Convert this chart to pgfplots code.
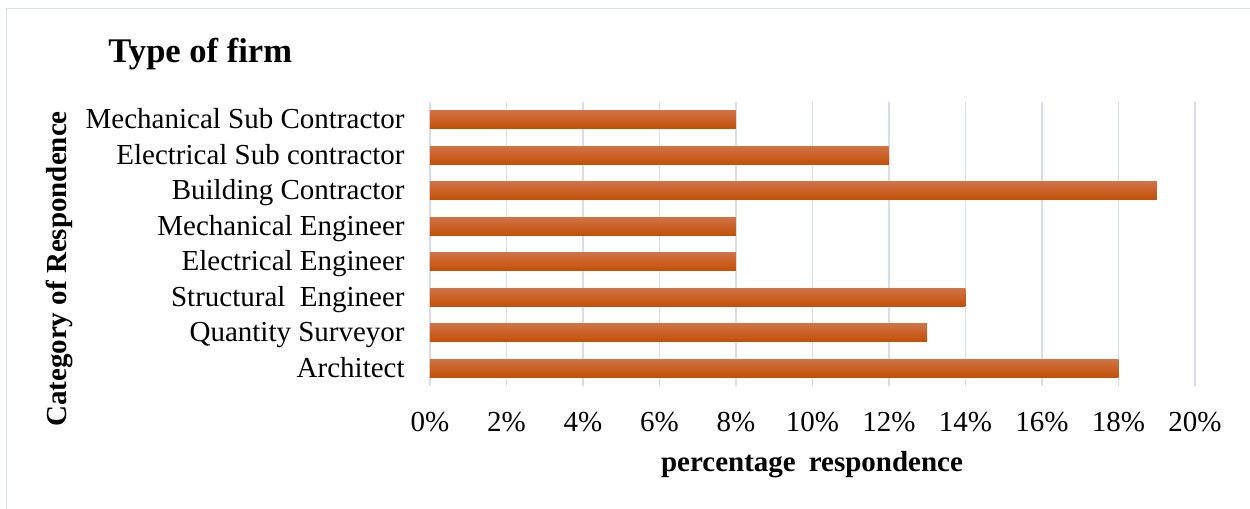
\documentclass[border=0pt]{standalone}
\usepackage{pgfplots}
\pgfplotsset{compat=1.18}
\usepackage{fontspec}
\setmainfont{Liberation Serif}

\definecolor{framec}{RGB}{220,224,232}
\definecolor{gridc}{RGB}{216,220,231}
\definecolor{bartop}{RGB}{208,114,70}
\definecolor{barmid}{RGB}{200,86,12}
\definecolor{barbot}{RGB}{194,80,6}

% one unit of the drawing grid (1250 x 508 units)
\def\u{0.4138}
\newcommand\px[2]{({#1*\u pt},{(508-#2)*\u pt})}

\begin{document}
\begin{tikzpicture}
\useasboundingbox \px{0}{508} rectangle \px{1250}{0};
% outer frame
\draw[framec, line width=0.66pt] \px{6.5}{8.5} rectangle \px{1262}{520};

\begin{axis}[
  at={(177.93pt,50.48pt)}, anchor=south west,
  scale only axis,
  width=316.56pt, height=117.52pt,
  xmin=0, xmax=20,
  ymin=-0.5, ymax=7.5,
  xbar, bar width=7.45pt, bar shift=0pt,
  axis line style={draw=none},
  major tick length=0pt,
  xtick={0,2,...,20},
  xticklabels={0\%,2\%,4\%,6\%,8\%,10\%,12\%,14\%,16\%,18\%,20\%},
  ytick={0,...,7},
  yticklabels={Architect,Quantity Surveyor,Structural\ \ Engineer,Electrical Engineer,Mechanical Engineer,Building Contractor,Electrical Sub contractor,Mechanical Sub Contractor},
  xmajorgrids,
  major grid style={draw=gridc, line width=0.62pt},
  tick label style={font=\fontsize{12}{14}\selectfont},
  yticklabel style={anchor=east, inner sep=0pt, xshift=-10.3pt, text height=7.9pt, text depth=0.4pt},
  xticklabel style={anchor=north, inner sep=0pt, yshift=-10.6pt},
  /pgf/number format/assume math mode=true,
  clip=false,
  every axis plot/.style={draw=none, top color=bartop, middle color=barmid, bottom color=barbot},
]
% one plot per category, so that every bar carries its own gradient
\addplot coordinates {(18,0)}; % Architect
\addplot coordinates {(13,1)}; % Quantity Surveyor
\addplot coordinates {(14,2)}; % Structural Engineer
\addplot coordinates {(8,3)};  % Electrical Engineer
\addplot coordinates {(8,4)};  % Mechanical Engineer
\addplot coordinates {(19,5)}; % Building Contractor
\addplot coordinates {(12,6)}; % Electrical Sub contractor
\addplot coordinates {(8,7)};  % Mechanical Sub Contractor
\end{axis}

% titles
\node[anchor=base west, inner sep=0pt, font=\fontsize{14.3}{17}\selectfont\bfseries]
  at \px{108}{62} {Type of firm};
\node[anchor=base, inner sep=0pt, font=\fontsize{12}{14}\selectfont\bfseries]
  at \px{812}{471} {percentage\hspace{0.45em}respondence};
\node[rotate=90, anchor=base, inner sep=0pt, font=\fontsize{12}{14}\selectfont\bfseries]
  at \px{66}{269} {Category of Respondence};
\end{tikzpicture}
\end{document}
